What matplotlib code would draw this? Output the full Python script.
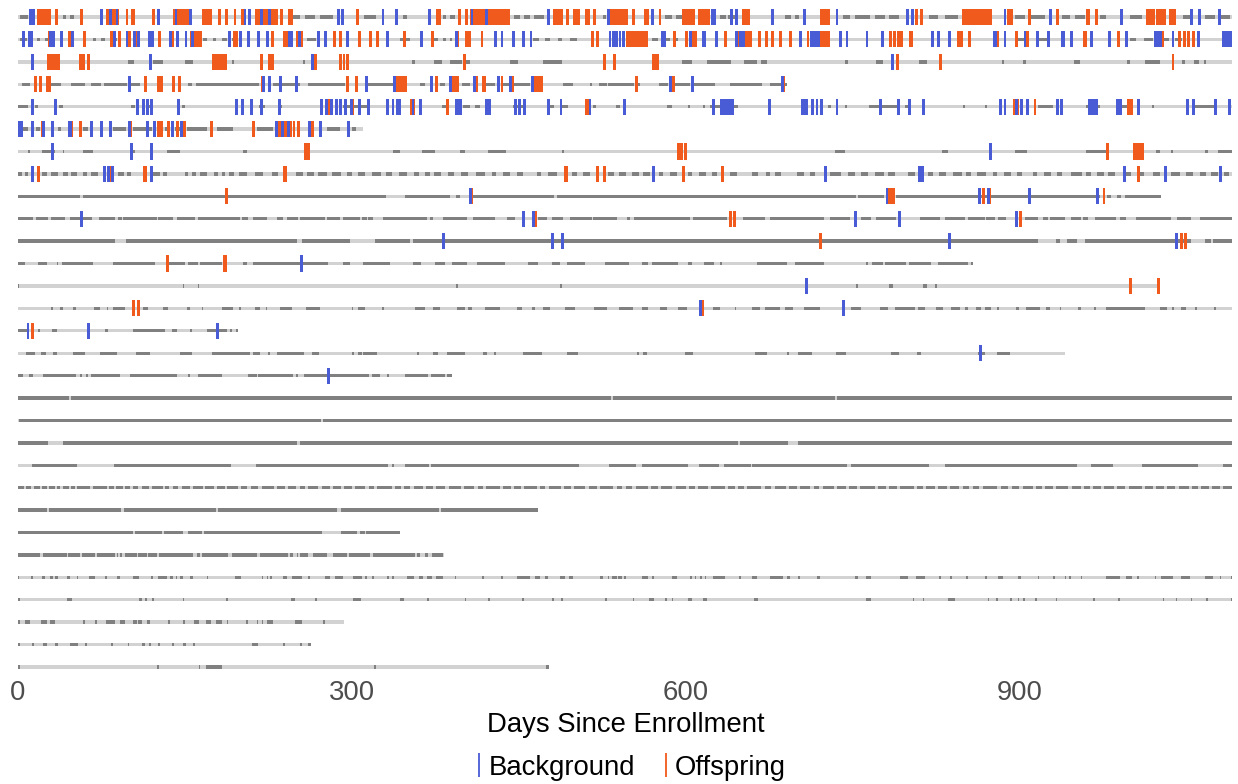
import matplotlib
matplotlib.use("Agg")
import matplotlib.pyplot as plt
from matplotlib.lines import Line2D

plt.rcParams['font.family'] = ['Liberation Sans', 'DejaVu Sans']

# last day of follow-up for each participant (row 1 = top)
row_end = [1091, 1091, 1091, 691, 1091, 310, 1091, 1091, 1027, 1091,
           1091, 858, 1025, 1091, 198, 941, 390, 1091, 1091, 1091,
           1091, 1091, 467, 343, 383, 1091, 1091, 293, 263, 477]

# observed (dark grey) stretches, (start_day, end_day)
observed = [
    [(2, 9), (40, 43), (47, 50), (244, 253), (258, 267), (271, 283), (311, 322), (346, 350), (382, 385), (388, 393),
     (446, 451), (455, 460), (464, 473), (526, 528), (581, 588), (591, 597), (631, 636), (638, 644), (689, 695),
     (698, 702), (741, 748), (752, 766), (770, 779), (783, 792), (819, 827), (833, 845), (896, 905), (909, 923),
     (938, 945), (950, 959), (972, 978), (999, 1010), (1047, 1055), (1067, 1076), (1080, 1089)],
    [(2, 8), (17, 20), (24, 27), (67, 70), (75, 78), (84, 89), (166, 170), (175, 178), (183, 188), (192, 195),
     (260, 268), (343, 352), (373, 377), (382, 385), (388, 390), (463, 468), (474, 478), (485, 489), (496, 502),
     (570, 575), (582, 586), (590, 593), (898, 905), (915, 925), (999, 1005), (1012, 1020), (1030, 1034), (1040, 1046)],
    [(99, 104), (121, 130), (150, 157), (192, 194), (256, 258), (354, 357), (374, 381), (388, 399), (403, 406),
     (442, 449), (472, 489), (597, 606), (619, 641), (652, 664), (668, 673), (743, 746), (771, 777), (810, 817),
     (884, 886), (903, 906), (949, 954), (997, 999), (1013, 1026), (1046, 1049), (1057, 1061), (1066, 1068)],
    [(4, 11), (30, 39), (48, 60), (66, 75), (77, 98), (102, 110), (153, 156), (160, 217), (229, 253), (261, 294),
     (314, 337), (361, 366), (379, 384), (399, 406), (421, 429), (436, 442), (445, 460), (490, 499), (514, 516),
     (522, 529), (530, 554), (557, 559), (576, 584), (590, 604), (606, 626), (640, 669), (676, 691)],
    [(0, 9), (15, 18), (37, 40), (102, 105), (117, 121), (147, 150), (217, 222), (234, 237), (292, 316), (381, 386),
     (400, 406), (411, 415), (445, 455), (477, 482), (489, 494), (517, 519), (537, 541), (583, 588), (602, 604),
     (616, 617), (622, 647), (728, 731), (743, 745), (765, 791), (797, 801), (849, 851), (869, 871), (917, 930),
     (960, 972), (988, 997), (1019, 1021), (1056, 1075)],
    [(4, 9), (16, 20), (36, 39), (58, 63), (85, 97), (103, 120), (132, 137), (141, 146), (152, 170), (179, 193),
     (215, 229), (278, 289), (300, 304)],
    [(9, 11), (22, 33), (40, 41), (58, 67), (101, 105), (134, 146), (202, 206), (337, 343), (363, 375), (397, 402),
     (422, 439), (489, 491), (734, 743), (830, 836), (896, 907), (960, 978), (1023, 1026), (1036, 1038),
     (1067, 1069), (1078, 1091)],
    [(0, 4), (6, 9), (22, 26), (30, 36), (40, 45), (48, 53), (58, 62), (66, 72), (90, 95), (98, 102), (120, 128),
     (130, 134), (150, 153), (156, 160), (164, 170), (176, 180), (183, 186), (190, 194), (199, 206), (213, 220),
     (228, 234), (250, 256), (260, 266), (270, 278), (282, 290), (296, 300), (306, 312), (318, 326), (331, 336),
     (342, 350), (356, 360), (366, 370), (374, 380), (386, 392), (398, 404), (412, 420), (426, 430), (436, 442),
     (448, 454), (466, 470), (476, 484), (498, 502), (508, 514), (530, 536), (540, 546), (552, 558), (562, 568),
     (576, 580), (586, 592), (602, 606), (612, 618), (624, 628), (640, 646), (660, 665), (672, 676), (680, 686),
     (700, 706), (712, 716), (730, 740), (746, 752), (758, 764), (770, 778), (782, 788), (800, 806), (818, 822),
     (828, 834), (840, 848), (852, 856), (862, 870), (876, 880), (886, 892), (898, 902), (912, 916), (922, 928),
     (934, 938), (946, 956), (960, 964), (970, 976), (980, 986), (996, 1000), (1006, 1012), (1020, 1026),
     (1036, 1044), (1050, 1056), (1062, 1068), (1072, 1078), (1084, 1088)],
    [(0, 56), (58, 331), (348, 388), (394, 397), (409, 482), (484, 753), (755, 778), (789, 972), (979, 982),
     (988, 991), (995, 1027)],
    [(0, 13.5), (16, 27), (29.6, 42), (46.7, 55.7), (58.4, 66.5), (72.8, 87), (89.8, 93.4), (94, 125), (126, 139),
     (143, 159), (162, 199.5), (201, 206.7), (211, 223.7), (232.7, 238), (241.7, 251.6), (253.4, 275.8),
     (277.6, 289.3), (292, 307), (309, 313.6), (314.5, 319), (328, 367.5), (370, 373), (382, 403.4), (408.8, 428.6),
     (439.4, 446.5), (467, 475.3), (479.8, 489.7), (496, 515.7), (516.6, 538), (547, 550), (554, 603.8),
     (606.5, 637), (651.4, 671), (675.7, 724), (729.6, 747.6), (757.4, 766.4), (771, 788.9), (810.4, 828.4),
     (833, 851), (853.6, 868.9), (869.7, 877.8), (880.5, 887.7), (904.8, 916.5), (921, 925.5), (927.3, 940.7),
     (946, 955), (957, 961.4), (967.7, 986.6), (990, 995.5), (1004.5, 1036), (1042, 1054), (1062, 1091)],
    [(0, 87), (97, 251), (255, 298), (321, 352), (355, 917), (933, 936), (943, 952), (959, 1054), (1067, 1072),
     (1074, 1091)],
    [(0, 6.3), (18, 26), (35, 36), (39.5, 67.4), (85, 123), (135.7, 150), (152.7, 161.7), (163.5, 183.3),
     (202, 205.7), (211, 278.5), (292, 298), (310, 334), (355, 362), (374.7, 383.7), (390, 403.4), (412.4, 437.6),
     (458, 467), (479.8, 487), (493.3, 509.5), (527.4, 549), (560.7, 566), (569.6, 593), (602, 605.6),
     (616.4, 625.4), (631, 632.5), (664, 691), (698, 724), (762, 763.7), (767.3, 777), (779, 798), (800.6, 820.3),
     (826.6, 853.6), (856, 858)],
    [(0, 1), (148, 149.5), (161.7, 163), (394, 395.5), (487, 488.5), (753, 754.5), (782.6, 786), (813, 817),
     (824, 825.5)],
    [(29.6, 31.4), (37.7, 40.4), (49.4, 52), (68.3, 73.7), (80, 81), (85.4, 96.1), (112.3, 116.8), (130.3, 134.8),
     (151.8, 154.5), (165, 166), (183.3, 193.2), (199, 200.5), (213, 217.4), (222.8, 223.7), (235.4, 246.2),
     (258.8, 271.3), (300, 301.5), (305.5, 311.8), (327, 328.5), (356.7, 365.7), (372.9, 379.2), (394.4, 401.6),
     (404.3, 408), (419.6, 433.1), (448.3, 452.8), (461.8, 464.5), (471.7, 478), (491.5, 500.5), (517.5, 529.2),
     (539.8, 552.4), (560.6, 566), (576.8, 583.1), (593, 601), (624.5, 630.7), (644, 645.5), (659.5, 666.7),
     (671.2, 684.6), (689.2, 696.3), (706.2, 720.6), (748.5, 757.4), (774.5, 781.7), (788, 806), (808.7, 815),
     (824.8, 831.1), (838.3, 846.4), (850.9, 853.6), (860.8, 865.3), (868.9, 874.2), (880, 881.5), (896.7, 899.4),
     (905.7, 918.3), (923.7, 927.3), (936, 937.5), (952.4, 955.1), (967, 968.5), (977.6, 1012.6), (1026, 1032.4),
     (1037, 1038.5), (1044.9, 1049.4), (1058, 1059.5), (1075, 1076.5)],
    [(0, 8), (18, 19.8), (30.5, 35), (78, 80.9), (103.3, 132), (138.4, 142.9), (154.7, 156.2), (169.8, 187.8),
     (190.5, 192.3), (195.6, 197.7)],
    [(7, 15.3), (20.7, 25), (31.4, 35), (49.4, 60.2), (73.7, 89), (106, 118.6), (145.6, 156.3), (174.3, 208.5),
     (211, 217.4), (225, 226.5), (232.7, 257), (264, 270.4), (300.5, 302), (305.5, 309), (310, 322.6),
     (359, 360.5), (373, 377.4), (385.5, 401.6), (417.8, 421.4), (428, 429.5), (453.7, 470.8), (493.3, 503.2),
     (556.5, 558), (561.6, 565), (599.3, 606.5), (662, 673), (691.5, 693), (700.8, 713.4), (735, 744),
     (784.4, 791.6), (807.8, 811.3), (862.6, 869), (879.6, 891.3)],
    [(0, 4.5), (10, 13.5), (22.5, 52), (55.7, 57.5), (61, 63), (65.6, 91.6), (100.6, 142.9), (152.7, 154.5),
     (161.7, 183.3), (206.7, 214.7), (215.6, 247), (249.8, 251.6), (257, 315.4), (318, 325.3), (331.5, 333.3),
     (347.7, 368.4), (371, 383.7), (385.5, 390)],
    [(0, 46), (48, 533), (535, 734), (736, 1091)],
    [(1, 272), (274, 1091)],
    [(0, 27), (40, 251), (253, 647), (649, 692), (701, 1091)],
    [(12.6, 53), (86.3, 191.4), (213.8, 332.4), (336.5, 338), (347.7, 369.3), (371, 504), (531, 555.3),
     (560.7, 602), (611.9, 629.9), (634.3, 658.6), (659.5, 745), (748.4, 818.5), (833, 951.5), (964, 983.9),
     (1010, 1060), (1082.7, 1091)],
    [(0, 5), (7, 12), (14, 20), (22, 26), (28, 33), (35, 38), (40, 46), (48, 51), (53, 65), (67, 80), (82, 86),
     (88, 94), (96, 101), (103, 108), (111, 118), (120, 130), (132, 136), (139, 144), (147, 155), (157, 166),
     (168, 176), (179, 186), (188, 198), (200, 206), (209, 216), (219, 230), (233, 240), (243, 250), (253, 258),
     (261, 270), (273, 280), (283, 290), (293, 300), (303, 312), (315, 320), (323, 336), (339, 344), (347, 352),
     (356, 364), (367, 373), (376, 384), (387, 398), (401, 410), (413, 418), (421, 433), (436, 443), (446, 452),
     (455, 466), (469, 474), (477, 488), (491, 497), (500, 510), (513, 520), (523, 535), (538, 543), (546, 552),
     (555, 566), (569, 575), (578, 588), (591, 600), (603, 608), (611, 620), (623, 635), (638, 644), (647, 652),
     (655, 668), (671, 677), (680, 690), (693, 700), (703, 712), (715, 720), (723, 733), (736, 744), (747, 754),
     (757, 770), (773, 780), (783, 790), (793, 805), (808, 813), (816, 824), (827, 835), (838, 846), (849, 855),
     (858, 864), (867, 880), (883, 890), (893, 900), (903, 912), (915, 920), (923, 930), (933, 944), (947, 955),
     (958, 963), (966, 973), (976, 985), (988, 995), (998, 1010), (1013, 1020), (1023, 1030), (1033, 1040),
     (1043, 1052), (1055, 1060), (1063, 1070), (1073, 1080), (1083, 1091)],
    [(0, 26), (28, 93), (95, 178), (180, 287), (290, 378), (380, 467)],
    [(0, 103), (105, 129), (131, 148), (153, 165), (167, 273), (290, 305), (307, 312), (313, 343)],
    [(0, 19.8), (22.5, 44), (45, 55.7), (57.5, 69.2), (71, 87), (89, 90), (91.6, 93.4), (96, 107), (108, 116),
     (117, 125), (126.7, 157.2), (160.8, 163.5), (165.3, 188.7), (192.3, 214.7), (217.4, 242.6), (244.4, 247),
     (250.7, 251.6), (253.4, 260.6), (265, 277.6), (283, 295.6), (297.4, 316.3), (319, 356.7), (358.5, 361.2),
     (365.7, 368.4), (372, 382)],
    [(0, 1), (12, 13.5), (22, 24.5), (29, 31.5), (33, 36), (44, 46.5), (53, 54), (64, 69), (78, 80), (89, 92),
     (103, 109), (119.5, 121), (126, 134), (137, 139), (142, 143), (146, 148.5), (155, 157), (170, 171), (195, 200),
     (219, 220), (224, 225), (226.5, 228.5), (238, 242), (246, 255), (260.6, 262), (276, 280), (285, 292),
     (301, 309), (312, 313.5), (318, 319.5), (331.5, 333), (336, 337.5), (350, 356), (360, 364), (368, 372),
     (376, 382), (392.6, 394), (417, 418.5), (434, 435.5), (448, 460), (464.5, 469), (473.5, 476), (487, 491.5),
     (495, 499), (523, 525.5), (530, 531.5), (534, 538), (539, 543), (545, 546.5), (561, 566), (570, 571.5),
     (588, 592), (604, 605.5), (608, 609.5), (613, 614.5), (617, 618.5), (624.5, 635), (648, 649.5), (660, 664),
     (676, 687.5), (691, 694), (701, 702.5), (718, 721), (752, 755), (762, 766.4), (792.5, 800), (807, 815),
     (828, 829.5), (838, 839.5), (852, 853.5), (869, 871), (880.5, 885), (898.5, 901), (916.5, 918), (930, 932),
     (940.7, 942), (944.3, 946), (955, 956.5), (977.6, 990), (995.5, 1001.5), (1006, 1007.5), (1021.6, 1023),
     (1027, 1038), (1045, 1053), (1067, 1074), (1080, 1081.5), (1090, 1091)],
    [(0, 1.5), (44, 48.5), (109, 111), (114, 115.5), (120.4, 122), (148, 149.5), (187, 188.5), (245.3, 246.8),
     (247, 248.5), (266.9, 268.4), (301, 308), (343, 346.5), (367.5, 369), (401.6, 403), (422.3, 424.5),
     (452.8, 454.3), (479.8, 481.3), (487.9, 489.4), (527.4, 528.9), (552.6, 554), (567, 571.2), (581.3, 583.1),
     (587.6, 589), (602, 605.6), (615.5, 619), (661.3, 665), (762, 766.3), (804, 805.5), (813, 814.5), (835.6, 842),
     (871.5, 873), (878.7, 880.5), (891.5, 893), (898.6, 900), (903.1, 904.6), (913.8, 915.4), (932.6, 934.1),
     (966, 967.5), (988.4, 989.9), (1028.8, 1030.3), (1040.5, 1042), (1054, 1055.5), (1067.6, 1069.1), (1090, 1091)],
    [(0, 2), (6, 11), (20.7, 26), (28.8, 33), (58.4, 60.2), (69.2, 71), (79, 87.1), (91.6, 96.1), (103.3, 107),
     (107.8, 111.4), (115.9, 118.6), (134.8, 136.6), (148.3, 150), (158.1, 162.6), (169, 173.4), (178, 183.3),
     (187.9, 188.8), (204.9, 206.7), (214.7, 215.6), (219.2, 220.6), (223.7, 229.1), (248.9, 255.2), (274, 275.8)],
    [(0, 1.5), (12.6, 14), (22.5, 26), (33, 36), (46.7, 54), (60.2, 61.7), (83.6, 85.4), (98.8, 100.2),
     (111.4, 114), (117.7, 119.5), (125.8, 127.3), (138.4, 140.2), (148.3, 151), (157.2, 159), (210.2, 215.6),
     (238, 239.8), (253.4, 255.2), (261, 263)],
    [(0, 2), (124.8, 126.3), (162.6, 164), (168.9, 183.3), (319.8, 321.3), (474.4, 477)],
]

# event days; a pair marks a run of consecutive event days
background = [
    [11, 14, 75, 83, 89, 126, 142, 155, 204, 208, 219, 226, 288, 292, 328, 340, 370, 408, 421, 477, 531, 570, 624,
     626, 641, 646, 678, 707, 736, 799, 804, 887, 928, 992, 1055, 1062, 1080],
    [5, (9, 13.5), 29, 32, 39, 49, 87, 98, 105, 108, 118, 121, 137, 143, 151, 157, 190, 200, 207, 216, 224, (243, 247),
     253, 270, 276, 296, 332, 363, 394, 429, 435, 445, (453, 456), 461, 532, 535, 538, 541, 544, 579, 581, 604,
     (615, 618), 628, 646, 649, 652, 703, (712, 721), 739, 745, 763, 777, 822, 827, 837, (876, 880), 887, 905, 916,
     926, (937, 941), (945, 948), 965, 981, 996, (1021, 1028), 1038, 1061, (1082, 1091)],
    [13, 119, 265, 786],
    [100, 221, 226, 236, 250, 313, 338, 372, 389, 410, 432, 443, 462, 586, 606, 687],
    [13, 34, 107, 113, 116, 120, 144, 196, 202, 210, 219, 235, 273, 277, 282, 286, 290, 294, (298, 301), 307, 315,
     332, 337, 341, 343, 355, 362, (393, 399), (420, 425), 447, 451, 455, 477, 488, 514, 545, 625, 632, 635, 638,
     640, 642, 675, (704, 710), 714, 718, (721, 723), 736, 775, 791, 801, 814, 883, 887, 897, 902, 907, 934, 938,
     (962, 971), 988, 991, 1007, 1051, 1056, 1076, 1089],
    [(0, 4.5), 13, 23, 31, (45, 48.5), (65, 67.5), (74, 76.5), 83, 100, 116, 123, 139, 147, 232, 238, 243, 262, 272,
     297],
    [31, 102, 120, 874],
    [13, 78, 81, 85, 120, 571, 726, 810, 813, 994, 1031, 1081],
    [407, 781, 864, 872, 909, 970],
    [57, 454, 463, 753, 792, 897],
    [382, 480, 489, 837, 1041],
    [(253, 256)],
    [709],
    [613, 742],
    [9, 63, 179],
    [865],
    [279],
] + [[] for _ in range(13)]

offspring = [
    [(17, 30), (33, 36), 57, (79, 91), 98, (102, 105), 122, (139, 154), (165, 174), 181, 187, 195, 202, 208,
     (213, 234), 237, (243, 247), 305, 340, (376, 380), 397, 403, (406, 442), (481, 490), 494, (499, 505),
     (510, 514), 518, (529, 548), 553, (563, 567), 577, (597, 608), (611, 622), (651, 658), (721, 730), (806, 809),
     812, (848, 875), (889, 894), 909, 934, (960, 963), 969, (1014, 1022), (1023, 1032), (1034, 1041)],
    [28, 31, (45, 48), 60, 84, (90, 93), (99, 102), 107, 127, 139, (155, 165), (193, 198), 229, (238, 244), 251, 255,
     (283, 286), 290, 307, 317, 323, 347, (372, 373), 395, 403, 406, 417, 516, 521, (546, 566), 590, 601, (606, 610),
     636, (644, 660), 666, 673, 678, 685, 694, 710, (721, 730), 763, 784, 788, 791, 794, (801, 804), (844, 849), 855,
     880, 897, 907, (957, 961), (988, 990), 1029, 1044, 1048, 1052, 1056],
    [(26, 38), (55, 57), (58, 60), 63, (174, 188), (218, 220), (225, 230), 267, 290, 293, 296, (400, 403), 527, 536,
     (570, 576), 790, 829, 1038],
    [(15, 17), 20, (25, 30), (113, 116), (125, 130), 140, 145, (218, 221), 296, 304, (337, 350), 376, 391, (393, 396),
     412, (417, 421), 435, 444, (463, 472), 556, 589, 688],
    [(143, 146), (278, 280), 301, (352, 357), 386, (510, 513), (894, 900), 914, (997, 1002)],
    [22, 48, 56, 101, (125, 130), 135, 143, 150, 174, 212, 235, 240, 243, 245, 248, 252, 265],
    [(257, 262), (592, 598), 600, 979, (1002, 1012)],
    [(17, 20), 82, (112, 116), (238, 242), (491, 494), 521, 527, 598, 633, 1007],
    [187, 408, (781, 788), 868, 873, 976],
    [465, 640, 644, 901],
    [721, 1046, 1049],
    [(133, 136), (184, 188)],
    [1000, 1025],
    [(103, 105), 108, (614, 616)],
    [13],
] + [[] for _ in range(15)]

tick_labels = ['0', '300', '600', '900']
tick_days = [0, 300, 600, 900]

blue = '#4a5bd6'
orange = '#f15a1d'
light = '#d2d2d2'
dark = '#808080'

W, H = 1238, 784
fig = plt.figure(figsize=(W / 100, H / 100), dpi=100)
ax = fig.add_axes([18 / W, 1 - 678.2 / H, (1232 - 18) / W, (678.2 - 5.8) / H])

line_h = 0.15
tick_h = 0.72
tick_w = 2.6


def spans(items):
    out = []
    for it in items:
        if isinstance(it, tuple):
            a, b = it
            if b - a < tick_w:
                m = (a + b) / 2
                a, b = m - tick_w / 2, m + tick_w / 2
            out.append((a, b - a))
        else:
            out.append((it - tick_w / 2, tick_w))
    return out


for i in range(len(row_end)):
    y = i + 1
    ax.broken_barh([(0, row_end[i])], (y - line_h / 2, line_h), facecolors=light, edgecolor='none')
    segs = [(a, max(b - a, 1.0)) for a, b in observed[i]]
    ax.broken_barh(segs, (y - line_h / 2, line_h), facecolors=dark, edgecolor='none')
    if offspring[i]:
        ax.broken_barh(spans(offspring[i]), (y - tick_h / 2, tick_h), facecolors=orange, edgecolor='none')
    if background[i]:
        ax.broken_barh(spans(background[i]), (y - tick_h / 2, tick_h), facecolors=blue, edgecolor='none')

ax.set_xlim(0, 1091)
ax.set_ylim(30.5, 0.5)
for s in ax.spines.values():
    s.set_visible(False)
ax.set_yticks([])
ax.set_xticks(tick_days)
ax.set_xticklabels(tick_labels)
ax.tick_params(axis='x', length=0, pad=1, labelsize=19.8, labelcolor='#4d4d4d')

fig.text(626 / W, 1 - 732 / H, 'Days Since Enrollment', ha='center', va='baseline', fontsize=19.8, color='black')

handles = [Line2D([], [], color=blue, marker='|', linestyle='None', markersize=17, markeredgewidth=1.3),
           Line2D([], [], color=orange, marker='|', linestyle='None', markersize=17, markeredgewidth=1.3)]
fig.legend(handles, ['Background', 'Offspring'], loc='center', bbox_to_anchor=(630 / W, 1 - 768 / H), ncol=2,
           frameon=False, fontsize=19.8, handlelength=0.4, handletextpad=0.15, columnspacing=0.9,
           borderaxespad=0, borderpad=0)

fig.savefig('out.png', dpi=100)
